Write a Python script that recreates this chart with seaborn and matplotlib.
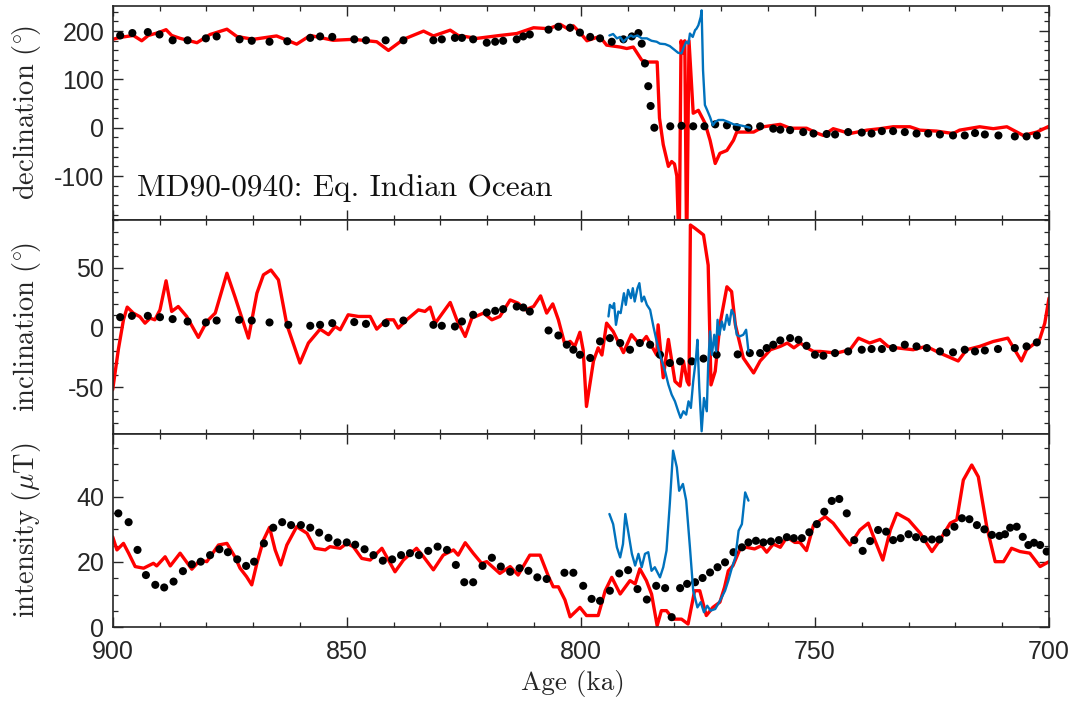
import numpy as np
import pandas as pd
import matplotlib
matplotlib.use("Agg")
import matplotlib.pyplot as plt
from matplotlib.ticker import MultipleLocator
import seaborn as sns

# ---------------- data ----------------
# Panel 1: declination
dec_red_age = [900.0, 898.4, 895.6, 893.8, 892.4, 890.2, 888.6, 887.4, 885.6, 882.0, 879.2, 875.6,
               873.5, 870.0, 865.0, 860.7, 857.8, 852.9, 848.6, 843.6, 841.1, 837.9, 833.6, 831.5,
               827.9, 826.2, 822.2, 817.3, 813.7, 810.1, 806.9, 804.4, 802.3, 801.6, 800.2, 798.7,
               796.6, 795.9, 794.5, 791.6, 790.2, 788.8, 787.0, 785.9, 783.7, 783.2, 782.4, 781.3,
               780.6, 780.0, 779.5, 779.0, 778.6, 778.2, 777.8, 777.4, 776.9, 776.0, 774.9, 773.5,
               772.4, 771.3, 770.3, 768.8, 767.4, 766.7, 765.3, 763.1, 761.0, 757.4, 755.3, 751.8,
               749.6, 748.2, 746.1, 742.5, 738.9, 736.1, 733.3, 729.7, 727.6, 724.0, 720.5, 719.1,
               714.8, 711.9, 709.0, 705.5, 702.6, 700.0]
dec_red_val = [183, 187, 191, 180, 191, 197, 203, 191, 185, 176, 193, 204,
               189, 183, 190, 173, 191, 181, 183, 178, 160, 183, 200, 190,
               202, 191, 185, 191, 195, 207, 205, 214, 202, 211, 197, 180,
               187, 188, 171, 167, 164, 167, 140, 136, 136, 20, -35, -80,
               -70, -75, -100, -260, 180, 155, 180, -260, 180, 30, 36, 10,
               -26, -74, -53, -47, -26, -9, -9, -9, 2, 7, -1, -1,
               -11, -16, -2, -12, -5, -2, 2, 2, -5, -7, -12, -5,
               2, -2, 2, -16, -9, 3]

dec_blue_age = [793.9, 793.1, 792.3, 791.6, 790.9, 790.2, 789.3, 788.8, 787.9, 787.0, 785.9, 784.9,
                783.8, 783.1, 782.0, 781.0, 780.1, 779.2, 778.5, 778.0, 777.5, 777.0, 776.7, 776.1,
                775.6, 775.3, 774.9, 774.4, 774.2, 773.9, 773.5, 773.0, 772.4, 771.8, 771.3, 770.6,
                769.6, 768.5, 767.4, 766.0, 764.6, 763.9]
dec_blue_val = [191, 194, 185, 188, 178, 185, 191, 188, 191, 185, 185, 180,
                178, 174, 173, 169, 162, 155, 154, 167, 178, 174, 195, 188,
                202, 205, 212, 229, 243, 119, 47, 36, 22, 5, 12, 16,
                16, 12, 7, 5, 2, 0]

dec_dot_age = [898.4, 895.8, 892.5, 890.0, 887.2, 884.0, 880.1, 877.8, 872.9, 870.3, 866.5, 862.7,
               857.8, 855.7, 853.1, 848.4, 845.9, 841.7, 837.9, 831.5, 829.7, 826.9, 825.4, 823.0,
               820.1, 818.3, 816.6, 813.7, 812.3, 810.9, 806.9, 804.8, 802.3, 800.2, 798.0, 795.9,
               793.4, 790.9, 789.1, 787.7, 787.0, 786.3, 785.6, 785.1, 784.3, 780.9, 778.5, 776.0,
               773.6, 771.3, 768.8, 766.7, 764.2, 761.7, 758.9, 757.4, 755.3, 752.5, 750.3, 747.5,
               745.7, 742.9, 740.0, 737.9, 735.7, 733.3, 730.8, 728.3, 725.8, 723.3, 720.5, 718.0,
               715.8, 713.7, 710.8, 707.3, 704.8, 702.6]
dec_dot_val = [191, 196, 198, 193, 181, 181, 185, 189, 183, 180, 178, 179,
               186, 189, 188, 183, 181, 181, 181, 181, 183, 186, 186, 183,
               176, 178, 180, 183, 189, 193, 203, 209, 207, 197, 188, 185,
               178, 183, 189, 196, 174, 133, 86, 45, 0, 3, 4, 3,
               3, 7, 5, 1, 0, 3, -2, -4, -5, -9, -12, -13,
               -14, -9, -10, -12, -7, -7, -9, -12, -12, -14, -16, -16,
               -11, -14, -16, -18, -18, -16]

# Panel 2: inclination
inc_red_age = [900.0, 898.8, 897.7, 896.9, 895.6, 894.2, 893.1, 892.0, 891.0, 889.9, 888.6, 887.4,
               886.0, 884.2, 881.7, 879.9, 878.1, 875.6, 873.9, 871.0, 869.2, 867.8, 866.2, 864.6,
               862.8, 860.0, 858.2, 855.7, 853.9, 852.5, 851.4, 849.7, 847.5, 845.0, 843.6, 841.5,
               840.0, 839.0, 837.2, 834.7, 833.3, 832.2, 831.1, 827.9, 826.5, 824.7, 823.3, 820.8,
               819.0, 817.3, 815.1, 813.4, 811.9, 810.1, 808.6, 807.3, 806.0, 804.8, 803.4, 802.3,
               801.3, 800.2, 799.5, 798.8, 797.3, 796.3, 795.5, 794.5, 793.1, 790.9, 789.2, 787.4,
               786.0, 783.8, 783.5, 782.4, 781.3, 779.9, 778.8, 778.1, 777.3, 776.9, 776.6, 775.6,
               773.8, 772.8, 772.2, 771.3, 770.3, 768.8, 767.8, 767.0, 765.3, 763.1, 761.7, 759.5,
               757.4, 755.9, 754.5, 753.1, 751.7, 750.3, 748.9, 745.4, 742.5, 740.7, 738.3, 736.1,
               734.4, 732.6, 729.0, 726.2, 723.3, 719.4, 717.6, 714.8, 711.9, 708.8, 705.9, 704.8,
               702.0, 700.9, 700.0]
inc_red_val = [-52, -18.6, 6.4, 17, 12, 9, 3.6, 7.8, 6.4, 14.7, 39, 13.4,
               17.5, 9.2, -8.3, 5, 12, 45.3, 25.8, -8.9, 28.6, 44, 48, 39.8,
               2.3, -29.7, -13, -1.4, -6, 0.8, -1.9, 10.6, 9.2, 9.2, -1.4, 6.4,
               6.4, -0.5, 6.4, 14.7, 13.4, 17, 3.6, 20.9, 6.4, -7.5, 7.8, 12,
               6.4, 9.2, 23, 20.3, 14.7, 17.5, 26.4, 12, 19.7, 6.4, -14.4, -11.6,
               -15.8, -4, -19, -66, -28, -17, -23, 3.6, -3.3, -21, -6, -14.4,
               -7.5, -23, 2.2, -42, -10, -45, -49, -28, -45, -48, 85.6, 82.8,
               77.3, 52, -48, -36.6, 2.3, 34, 30, 2.3, -25.5, -38, -28, -18.6,
               -15.8, -13, -17, -13, -17, -20, -20, -21.4, -18.6, -8.9, -13, -10,
               -15.8, -17, -18.6, -15.8, -21.4, -28, -18.6, -15.8, -11.7, -8.9, -28, -18.6,
               -10, 3.6, 24.5]

inc_blue_age = [794.1, 793.8, 793.2, 792.9, 792.5, 792.0, 791.5, 790.8, 790.4, 789.9, 789.3, 788.9,
                788.5, 787.9, 787.5, 787.0, 786.5, 785.9, 785.2, 784.5, 783.8, 783.1, 782.0, 781.3,
                780.6, 779.9, 779.2, 778.7, 778.1, 777.5, 777.0, 776.5, 776.0, 775.4, 775.1, 774.7,
                774.2, 773.7, 773.1, 772.8, 772.4, 772.0, 771.5, 771.1, 770.8, 770.4, 769.9, 769.4,
                768.8, 768.3, 767.8, 767.3, 766.7, 766.1, 765.3, 764.7, 764.2]
inc_blue_val = [9.2, 18.9, 16.2, 20.3, 2.2, 13.3, 12, 28.6, 18.9, 31.4, 24.5, 32.8,
                21.7, 32.8, 37, 21.7, 25.8, 18.9, 14.7, 0.8, -11.7, -22.8, -36.7, -47.8,
                -56.1, -61.7, -70, -75.5, -70, -72.8, -61.7, -67.2, -45, -25.5, -10.3, -50.5,
                -86.7, -58.9, -70, -31.1, -3.3, -22.8, -6.1, -20, 6.4, -6.1, 5, -1.9,
                10.6, 2.2, 14.7, 10.6, -6.1, -7.5, -6.1, -1.9, -20]

inc_dot_age = [898.4, 895.9, 892.5, 889.9, 887.2, 884.0, 880.1, 877.8, 873.0, 870.3, 866.5, 862.5,
               857.8, 855.7, 853.1, 848.4, 845.9, 841.7, 837.9, 831.5, 829.7, 826.9, 825.4, 823.0,
               820.1, 818.3, 816.6, 813.7, 812.3, 810.9, 806.9, 804.8, 803.0, 801.6, 800.2, 798.0,
               795.9, 793.8, 791.6, 789.5, 787.4, 785.2, 783.1, 781.0, 778.8, 776.3, 773.8, 771.0,
               766.5, 763.9, 761.7, 760.3, 758.9, 757.4, 755.3, 753.5, 751.8, 750.0, 748.2, 745.7,
               742.9, 740.0, 737.9, 735.7, 733.3, 730.8, 728.3, 726.1, 723.3, 720.5, 718.0, 715.8,
               713.7, 710.9, 707.3, 704.8, 702.6]
inc_dot_val = [8.6, 9.7, 9.7, 8.6, 7, 5, 4.2, 5.8, 6.4, 5.8, 4.2, 2.2,
               1.4, 2.2, 3.6, 4.5, 3, 3.6, 5.8, 2.2, 1.4, 0.8, 5, 10.6,
               12.5, 13.9, 15.3, 17.5, 16.7, 13.3, -2.5, -6.7, -14.4, -18.6, -22.8, -25.5,
               -11.6, -8.9, -13, -18.6, -13, -14.4, -22.8, -29.7, -28.3, -28.3, -26, -22.8,
               -22.5, -21.4, -21.4, -17.2, -14.4, -10.8, -8.9, -10.3, -15.3, -22.8, -23.6, -21.4,
               -20, -18.6, -18, -18, -17.2, -14.4, -15.8, -17.2, -20, -20.8, -18.6, -20,
               -19.2, -18, -17.2, -15.8, -12.5]

# Panel 3: intensity
int_red_age = [900.0, 899.1, 897.7, 896.6, 895.2, 893.4, 891.3, 890.6, 888.8, 887.7, 885.6, 883.1,
               881.3, 879.9, 877.4, 875.6, 873.9, 872.8, 871.4, 870.3, 869.2, 867.8, 866.5, 865.3,
               864.1, 862.8, 860.7, 858.5, 856.8, 854.6, 853.6, 851.4, 850.0, 848.6, 846.8, 845.0,
               842.5, 841.1, 839.7, 837.9, 835.1, 833.6, 831.5, 829.4, 827.2, 826.2, 824.7, 823.0,
               821.2, 820.1, 817.3, 815.1, 813.4, 810.9, 808.7, 806.9, 805.9, 804.8, 803.4, 802.3,
               800.2, 798.8, 796.3, 794.8, 793.4, 791.6, 789.5, 788.4, 787.4, 786.0, 784.9, 783.7,
               782.8, 781.7, 780.3, 778.5, 777.1, 775.7, 774.6, 773.2, 771.8, 770.3, 769.3, 768.5,
               767.5, 766.0, 764.6, 762.9, 761.4, 760.3, 758.9, 757.4, 756.0, 754.3, 753.2, 751.8,
               750.3, 747.8, 746.1, 743.9, 742.5, 740.4, 738.6, 737.2, 735.5, 733.9, 732.5, 730.0,
               727.5, 725.0, 723.3, 721.1, 719.7, 718.3, 716.5, 715.1, 713.3, 711.5, 709.7, 708.0,
               706.2, 704.1, 701.9, 700.0]
int_red_val = [27.7, 23.7, 25.7, 22.7, 18.6, 18.1, 19.6, 18.8, 21.6, 18.8, 22.7, 17.8,
               20.6, 20.1, 25.2, 25.7, 21.6, 18.1, 15.5, 13.0, 19.6, 26.7, 30.6, 23.7,
               19.1, 25.2, 30.8, 28.8, 24.2, 23.7, 24.7, 24.2, 25.7, 24.7, 21.1, 20.6,
               24.2, 20.6, 17.0, 20.6, 24.2, 21.6, 17.6, 22.1, 23.7, 22.1, 25.9, 22.7,
               19.6, 20.1, 16.5, 18.6, 16.0, 22.1, 22.1, 15.5, 12.4, 12.4, 8.4, 3.2,
               6.1, 3.6, 3.6, 11.2, 15.3, 10.2, 14.3, 13.3, 17.9, 14.3, 10.2, 0.5,
               5.1, 5.1, 2.5, 2.5, 1.0, 11.2, 11.2, 3.6, 6.1, 7.7, 12.3, 17.3,
               18.9, 24.0, 24.5, 24.0, 25.0, 23.0, 25.5, 24.5, 27.6, 26.0, 26.0, 23.5,
               31.3, 33.9, 31.9, 27.7, 25.2, 29.8, 31.9, 26.7, 20.6, 29.8, 34.9, 32.9,
               28.8, 23.2, 26.7, 31.9, 32.9, 45.1, 49.7, 46.1, 30.8, 20.1, 20.1, 24.2,
               23.2, 22.7, 18.6, 20.1]

int_blue_age = [793.9, 793.1, 792.3, 791.6, 791.0, 790.5, 789.8, 789.1, 788.4, 787.7, 787.0, 786.3,
                785.6, 784.9, 784.2, 783.1, 782.4, 781.7, 781.0, 780.3, 779.5, 779.0, 778.2, 777.5,
                776.7, 776.0, 775.1, 774.4, 773.7, 773.0, 772.3, 771.3, 770.3, 769.2, 768.5, 767.8,
                767.0, 766.3, 765.6, 764.9, 764.2]
int_blue_val = [34.7, 31.6, 24.5, 21.4, 25.5, 34.7, 28.6, 22.5, 18.9, 22.5, 18.4, 22.5,
                23.0, 17.3, 18.4, 15.3, 18.4, 23.5, 37.8, 54.1, 49.0, 41.8, 43.9, 38.8,
                24.5, 11.2, 6.1, 7.7, 4.6, 6.6, 5.1, 5.6, 8.1, 11.2, 14.3, 17.9,
                21.4, 29.6, 31.6, 41.3, 38.8]

int_dot_age = [898.8, 896.6, 894.7, 892.9, 890.9, 889.0, 887.0, 885.0, 883.1, 881.2, 879.2, 877.2,
               875.4, 873.4, 871.5, 869.8, 867.7, 865.7, 863.8, 861.9, 859.8, 857.8, 855.9, 853.9,
               852.0, 850.0, 848.2, 846.2, 844.3, 842.3, 840.3, 838.4, 836.5, 834.6, 832.6, 830.6,
               828.6, 826.7, 824.9, 823.0, 821.0, 819.0, 817.1, 815.1, 813.1, 811.2, 809.3, 807.3,
               803.5, 801.6, 799.5, 797.7, 795.9, 793.8, 791.8, 789.9, 787.9, 785.9, 783.9, 782.0,
               780.6, 778.8, 777.3, 775.6, 774.0, 772.4, 770.8, 769.2, 767.4, 765.6, 764.2, 762.6,
               761.0, 759.4, 757.7, 756.0, 754.5, 752.8, 751.2, 749.6, 748.0, 746.4, 744.8, 743.2,
               741.6, 739.8, 738.2, 736.5, 734.8, 733.3, 731.7, 730.0, 728.4, 726.7, 725.0, 723.4,
               721.9, 720.2, 718.6, 717.0, 715.4, 713.8, 712.2, 710.6, 709.4, 708.3, 706.9, 705.6,
               704.4, 703.2, 701.9, 700.5]
int_dot_val = [34.9, 32.2, 23.7, 16.0, 13.0, 12.2, 14.0, 17.2, 19.3, 20.1, 22.1, 23.9,
               23.0, 20.8, 18.8, 20.1, 25.7, 30.5, 32.2, 31.3, 31.3, 30.5, 29.0, 27.4,
               26.0, 26.0, 25.3, 23.9, 22.1, 20.4, 20.8, 22.1, 22.7, 22.1, 23.4, 24.7,
               23.7, 19.1, 13.8, 13.8, 18.8, 21.3, 18.6, 17.0, 18.1, 17.3, 15.3, 14.8,
               16.7, 16.7, 12.7, 8.7, 8.1, 11.2, 16.5, 17.5, 11.7, 8.5, 12.7, 12.0,
               3.1, 12.0, 13.3, 13.8, 15.1, 16.8, 18.4, 19.9, 23.0, 24.5, 26.0, 26.5,
               26.0, 26.3, 26.7, 27.6, 27.3, 27.3, 29.1, 31.6, 35.4, 38.7, 39.3, 34.9,
               26.7, 23.4, 26.4, 29.8, 29.3, 26.7, 27.3, 28.5, 27.6, 27.0, 26.9, 26.9,
               29.0, 30.8, 33.4, 33.1, 31.3, 30.0, 28.3, 28.0, 28.5, 30.5, 30.8, 27.7,
               25.2, 25.9, 25.2, 23.2]

x_ticks = [900, 850, 800, 750, 700]
dec_ticks = [-100, 0, 100, 200]
inc_ticks = [-50, 0, 50]
int_ticks = [0, 20, 40]

# ---------------- styling ----------------
sns.set_theme(style="ticks")
plt.rcParams["font.family"] = ["Liberation Sans", "DejaVu Sans"]
plt.rcParams["mathtext.fontset"] = "cm"
plt.rcParams["axes.unicode_minus"] = False

RED = "#FF0000"
BLUE = "#0072BD"
DARK = "#262626"
LABEL_FONT = "cmr10"

fig = plt.figure(figsize=(10.74, 7.07), dpi=100)
W, H = 1074.0, 707.0
left_px, right_px = 112.7, 1049.0
panels_px = [(6.0, 219.5), (219.5, 434.0), (434.0, 627.3)]
axes = []
for top, bot in panels_px:
    ax = fig.add_axes([left_px / W, 1 - bot / H, (right_px - left_px) / W, (bot - top) / H])
    axes.append(ax)

def draw(ax, red_a, red_v, dot_a, dot_v, blue_a, blue_v):
    sns.lineplot(x=red_a, y=red_v, ax=ax, color=RED, lw=2.4, sort=False,
                 estimator=None, zorder=2)
    sns.scatterplot(x=dot_a, y=dot_v, ax=ax, color="black", s=34, edgecolor="none",
                    zorder=3)
    sns.lineplot(x=blue_a, y=blue_v, ax=ax, color=BLUE, lw=1.7, sort=False,
                 estimator=None, zorder=4)

draw(axes[0], dec_red_age, dec_red_val, dec_dot_age, dec_dot_val, dec_blue_age, dec_blue_val)
draw(axes[1], inc_red_age, inc_red_val, inc_dot_age, inc_dot_val, inc_blue_age, inc_blue_val)
draw(axes[2], int_red_age, int_red_val, int_dot_age, int_dot_val, int_blue_age, int_blue_val)

ylims = [(-190, 252), (-89, 90.2), (0, 59.2)]
yticks = [dec_ticks, inc_ticks, int_ticks]
yminor = [20, 10, 5]
ylabels = [r"$\mathrm{declination\ (}^{\circ}\!\mathrm{)}$",
           r"$\mathrm{inclination\ (}^{\circ}\!\mathrm{)}$",
           r"$\mathrm{intensity\ (}\mu\mathrm{T)}$"]

for i, ax in enumerate(axes):
    ax.set_xlim(900, 700)
    ax.set_ylim(*ylims[i])
    ax.set_xticks(x_ticks)
    ax.xaxis.set_minor_locator(MultipleLocator(10))
    ax.set_yticks(yticks[i])
    ax.yaxis.set_minor_locator(MultipleLocator(yminor[i]))
    ax.tick_params(which="both", direction="in", top=True, right=True,
                   color=DARK, labelcolor=DARK, labelsize=18)
    ax.tick_params(which="major", length=7, width=1.0)
    ax.tick_params(which="minor", length=3.6, width=0.9)
    ax.tick_params(axis="y", pad=6)
    ax.tick_params(axis="x", pad=9.5)
    for sp in ax.spines.values():
        sp.set_color(DARK)
        sp.set_linewidth(1.2)
        sp.set_visible(True)
    ax.set_ylabel(ylabels[i], fontsize=20.5, color=DARK)
    ax.yaxis.set_label_coords(-0.074, 0.5)
    ax.set_xlabel("")
    if i < 2:
        ax.tick_params(axis="x", labelbottom=False)
    ax.set_facecolor("white")

axes[2].set_xlabel("Age (ka)", fontsize=19.5, family=LABEL_FONT, color=DARK)
axes[2].xaxis.set_label_coords(0.492, -0.222)

axes[0].text(0.026, 0.148, "MD90-0940: Eq. Indian Ocean", transform=axes[0].transAxes,
             fontsize=22.5, family=LABEL_FONT, color="#111111", va="center", ha="left")

fig.savefig("out.png", dpi=100, facecolor="white")
